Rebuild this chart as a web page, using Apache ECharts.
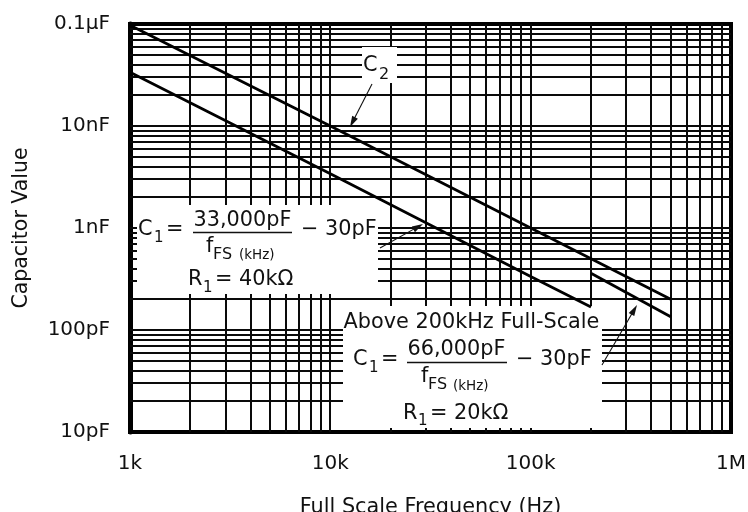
<!DOCTYPE html>
<html><head><meta charset="utf-8">
<script src="https://cdn.jsdelivr.net/npm/echarts@6/dist/echarts.min.js"></script>
<style>html,body{margin:0;padding:0;background:#fff}#c{width:748px;height:512px}</style>
</head><body><div id="c"></div>
<script>
// ---- data ----
const xTickValues = [1000, 10000, 100000, 1000000];
const xTickLabels = ['1k', '10k', '100k', '1M'];
const yTickValues = [10, 100, 1000, 10000, 100000];
const yTickLabels = ['10pF', '100pF', '1nF', '10nF', '0.1µF'];
const gridMultipliers = [1, 2, 3, 4, 5, 6, 7, 8, 9];
const xDecades = [1000, 10000, 100000];
const yDecades = [10, 100, 1000, 10000];

// C2 (upper line)
const c2Freq = [1000, 10000, 100000, 500000];
const c2Value = [97000, 10000, 1000, 200];
// C1, R1 = 40k (lower line up to 200kHz)
const c1Freq = [1000, 10000, 100000, 200000];
const c1Value = [33600, 3400, 335, 168];
// C1, R1 = 20k (above 200kHz)
const c1HiFreq = [200000, 500000];
const c1HiValue = [360, 135];

// ---- helpers ----
const FONT = '"DejaVu Sans"';
const TXT = '#111';
const FS_MAIN = 20.8;
function zip(a, b) { return a.map((v, i) => [v, b[i]]); }
function labelFor(vals, labels) {
  return function (v) {
    const i = vals.findIndex(t => Math.abs(Math.log10(t) - Math.log10(v)) < 1e-6);
    return i >= 0 ? labels[i] : '';
  };
}
const xMin = xTickValues[0], xMax = xTickValues[xTickValues.length - 1];
const yMin = yTickValues[0], yMax = yTickValues[yTickValues.length - 1];
const vGrid = [], hGrid = [];
xDecades.forEach(d => gridMultipliers.forEach(m => { const v = d * m; if (v > xMin && v < xMax) vGrid.push([v, yMin]); }));
yDecades.forEach(d => gridMultipliers.forEach(m => { const v = d * m; if (v > yMin && v < yMax) hGrid.push([xMin, v]); }));

function T(x, y, text, size, align) {
  return { type: 'text', z: 10, silent: true,
    style: { x: x, y: y, text: text, font: size + 'px ' + FONT, fill: TXT, align: align || 'left', verticalAlign: 'middle' } };
}
function rect(x, y, w, h) {
  return { type: 'rect', z: 3, silent: true, shape: { x: x, y: y, width: w, height: h }, style: { fill: '#fff' } };
}
function bar(x1, x2, y) {
  return { type: 'line', z: 10, silent: true, shape: { x1: x1, y1: y, x2: x2, y2: y }, style: { stroke: TXT, lineWidth: 1.6 } };
}
function arrow(sx, sy, tx, ty) {
  const dx = tx - sx, dy = ty - sy, L = Math.hypot(dx, dy);
  const ux = dx / L, uy = dy / L, nx = -uy, ny = ux;
  const hl = 11, hw = 3.2;
  const bx = tx - ux * hl, by = ty - uy * hl;
  return [
    { type: 'line', z: 10, silent: true, shape: { x1: sx, y1: sy, x2: bx + ux * 2, y2: by + uy * 2 }, style: { stroke: '#111', lineWidth: 1.1 } },
    { type: 'polygon', z: 10, silent: true, shape: { points: [[tx, ty], [bx + nx * hw, by + ny * hw], [bx - nx * hw, by - ny * hw]] }, style: { fill: '#111' } }
  ];
}

const elements = [
  rect(137, 205, 241, 89),
  rect(343, 306, 259, 122),
  rect(362, 47, 35, 36),
  // C2 label
  T(363, 65.5, 'C', FS_MAIN), T(379, 75, '2', 16),
  // box 1
  T(138, 230, 'C', FS_MAIN), T(154, 238, '1', 15), T(166, 230, '=', FS_MAIN),
  T(242.5, 220.5, '33,000pF', FS_MAIN, 'center'), bar(193, 292, 232.5),
  T(301, 230, '\u2212 30pF', FS_MAIN),
  T(206, 246.5, 'f', FS_MAIN), T(213, 254.5, 'FS', 16), T(239, 255.5, '(kHz)', 13.5),
  T(188, 280, 'R', FS_MAIN), T(203, 288, '1', 15), T(215, 280, '= 40k\u03A9', FS_MAIN),
  // box 2
  T(471.5, 322.5, 'Above 200kHz Full-Scale', FS_MAIN, 'center'),
  T(353, 360, 'C', FS_MAIN), T(369, 368, '1', 15), T(381, 360, '=', FS_MAIN),
  T(456.5, 349.5, '66,000pF', FS_MAIN, 'center'), bar(407, 507, 362.5),
  T(516, 360, '\u2212 30pF', FS_MAIN),
  T(421, 377, 'f', FS_MAIN), T(428, 385, 'FS', 16), T(453, 386, '(kHz)', 13.5),
  T(403, 413.5, 'R', FS_MAIN), T(418, 421, '1', 15), T(430, 413.5, '= 20k\u03A9', FS_MAIN)
].concat(arrow(372, 84, 350, 127), arrow(380, 248, 423, 224), arrow(602, 365, 637, 305));

function gridRender(vertical) {
  return function (params, api) {
    let p1, p2;
    if (vertical) {
      const v = api.value(0);
      p1 = api.coord([v, yMin]); p2 = api.coord([v, yMax]);
      const x = Math.round(p1[0]);
      return { type: 'line', shape: { x1: x, y1: p1[1], x2: x, y2: p2[1] }, style: { stroke: '#0a0a0a', lineWidth: 2 } };
    } else {
      const v = api.value(1);
      p1 = api.coord([xMin, v]); p2 = api.coord([xMax, v]);
      const y = Math.round(p1[1]);
      return { type: 'line', shape: { x1: p1[0], y1: y, x2: p2[0], y2: y }, style: { stroke: '#0a0a0a', lineWidth: 2 } };
    }
  };
}

const chart = echarts.init(document.getElementById('c'), null, { renderer: 'canvas' });
const axisCommon = {
  type: 'log', logBase: 10,
  nameLocation: 'middle',
  nameTextStyle: { fontFamily: FONT, fontSize: FS_MAIN, color: TXT },
  axisTick: { show: false },
  splitLine: { show: false },
  minorTick: { show: false }, minorSplitLine: { show: false }
};
chart.setOption({
  animation: false,
  backgroundColor: '#fff',
  grid: { left: 130, right: 17, top: 24, bottom: 80, containLabel: false, outerBoundsMode: 'none',
    show: true, borderColor: '#000', borderWidth: 4, backgroundColor: 'transparent' },
  xAxis: Object.assign({}, axisCommon, {
    min: xMin, max: xMax,
    name: 'Full Scale Frequency (Hz)', nameGap: 65,
    axisLine: { show: true, lineStyle: { color: '#000', width: 4 } },
    axisLabel: { margin: 22, fontFamily: FONT, fontSize: 20, color: TXT, formatter: labelFor(xTickValues, xTickLabels) }
  }),
  yAxis: Object.assign({}, axisCommon, {
    min: yMin, max: yMax,
    name: 'Capacitor Value', nameGap: 98, nameTextStyle: { fontFamily: FONT, fontSize: 20.5, color: TXT },
    axisLine: { show: true, lineStyle: { color: '#000', width: 5 } },
    axisLabel: { margin: 20, fontFamily: FONT, fontSize: 20, color: TXT, formatter: labelFor(yTickValues, yTickLabels) }
  }),
  graphic: { elements: elements },
  series: [
    { type: 'custom', z: 1, silent: true, data: vGrid, encode: { x: 0, y: 1 }, renderItem: gridRender(true) },
    { type: 'custom', z: 1, silent: true, data: hGrid, encode: { x: 0, y: 1 }, renderItem: gridRender(false) },
    { type: 'line', z: 5, silent: true, data: zip(c2Freq, c2Value), symbol: 'none', lineStyle: { color: '#000', width: 2.8 } },
    { type: 'line', z: 5, silent: true, data: zip(c1Freq, c1Value), symbol: 'none', lineStyle: { color: '#000', width: 2.8 } },
    { type: 'line', z: 5, silent: true, data: zip(c1HiFreq, c1HiValue), symbol: 'none', lineStyle: { color: '#000', width: 2.8 } }
  ]
});
</script></body></html>
